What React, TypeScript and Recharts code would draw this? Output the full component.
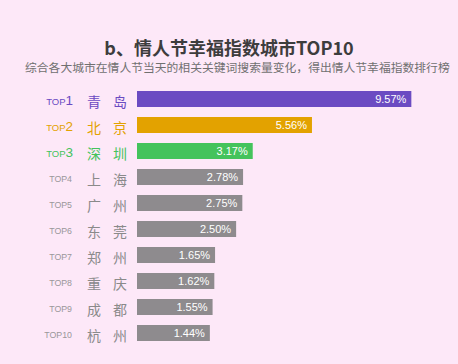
import React from "react";
import { BarChart, Bar, XAxis, YAxis, Cell, LabelList } from "recharts";

const ranks = ["TOP1", "TOP2", "TOP3", "TOP4", "TOP5", "TOP6", "TOP7", "TOP8", "TOP9", "TOP10"];
const cities = ["青岛", "北京", "深圳", "上海", "广州", "东莞", "郑州", "重庆", "成都", "杭州"];
const shares = [9.57, 5.56, 3.17, 2.78, 2.75, 2.5, 1.65, 1.62, 1.55, 1.44];
const rankColors = ["#6b4bc2", "#e3a200", "#44c35c"];
const GRAY_BAR = "#8e8b8e";
const AXIS_FLOOR = -1.5;
const AXIS_MAX = 10;

const TITLE = "b、情人节幸福指数城市TOP10";
const SUBTITLE = "综合各大城市在情人节当天的相关关键词搜索量变化，得出情人节幸福指数排行榜";

const BG = "#fde8f8";
const CJK = '"Noto Sans CJK SC", "Noto Sans", sans-serif';
const LATIN = '"Liberation Sans", Arial, sans-serif';

const data = cities.map((city, i) => ({
  rank: ranks[i],
  city,
  share: shares[i],
  span: [AXIS_FLOOR, shares[i]],
}));

const barColor = (i: number) => rankColors[i] ?? GRAY_BAR;

const CityTick = ({ y, payload }: any) => {
  const i = payload.index;
  const top = i < 3;
  const color = top ? rankColors[i] : "#8a8a8a";
  const num = ranks[i].replace("TOP", "");
  return (
    <g>
      {top ? (
        <text x={73} y={y + 6} textAnchor="end" fill={color} fontFamily={LATIN}>
          <tspan fontSize={9.5}>TOP</tspan>
          <tspan fontSize={13.5}>{num}</tspan>
        </text>
      ) : (
        <text x={72} y={y + 4.5} textAnchor="end" fill="#9a979a" fontFamily={LATIN} fontSize={8.8}>
          {ranks[i]}
        </text>
      )}
      <text
        x={87}
        y={y + 1.5}
        dominantBaseline="central"
        fill={color}
        fontFamily={CJK}
        fontSize={14}
        letterSpacing={12}
      >
        {payload.value}
      </text>
    </g>
  );
};

const ShareLabel = ({ x, y, width, height, value }: any) => (
  <text
    x={x + width - 5}
    y={y + height / 2 + 4}
    textAnchor="end"
    fill="#ffffff"
    fontFamily={LATIN}
    fontSize={11}
  >
    {Number(value).toFixed(2)}%
  </text>
);

export default function App() {
  return (
    <div
      style={{
        position: "absolute",
        left: 0,
        top: 0,
        width: 458,
        height: 364,
        background: BG,
        overflow: "hidden",
      }}
    >
      <div
        style={{
          position: "absolute",
          top: 36,
          left: 0,
          width: 458,
          textAlign: "center",
          fontFamily: CJK,
          fontSize: 18,
          lineHeight: "22px",
          fontWeight: 700,
          color: "#3d3d3d",
        }}
      >
        {TITLE}
      </div>
      <div
        style={{
          position: "absolute",
          top: 59,
          left: 25,
          whiteSpace: "nowrap",
          fontFamily: CJK,
          fontSize: 11.8,
          lineHeight: "16px",
          color: "#707070",
        }}
      >
        {SUBTITLE}
      </div>
      <BarChart
        width={458}
        height={364}
        data={data}
        layout="vertical"
        margin={{ top: 86, right: 36, bottom: 18, left: 0 }}
        style={{ position: "absolute", left: 0, top: 0 }}
      >
        <XAxis type="number" hide domain={[AXIS_FLOOR, AXIS_MAX]} allowDataOverflow />
        <YAxis
          type="category"
          dataKey="city"
          width={137}
          axisLine={false}
          tickLine={false}
          tick={<CityTick />}
          interval={0}
        />
        <Bar dataKey="span" barSize={16} isAnimationActive={false}>
          {data.map((d, i) => (
            <Cell key={d.city} fill={barColor(i)} />
          ))}
          <LabelList dataKey="share" content={<ShareLabel />} />
        </Bar>
      </BarChart>
    </div>
  );
}
